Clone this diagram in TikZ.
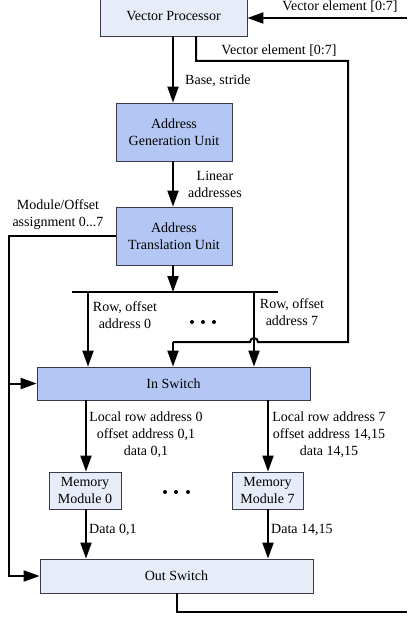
\documentclass[tikz,border=0pt]{standalone}
\usepackage{fontspec}
\setmainfont{Liberation Serif}
\usetikzlibrary{arrows.meta,calc}

\definecolor{palebox}{HTML}{E6ECF8}
\definecolor{bluebox}{HTML}{B3C6F4}
\definecolor{edge}{HTML}{3A3A4A}

\tikzset{
  unit/.style={draw=edge, line width=0.8pt, inner sep=0pt, align=center,
    font=\fontsize{14}{17}\selectfont},
  paleunit/.style={unit, fill=palebox},
  blueunit/.style={unit, fill=bluebox},
  wire/.style={line width=2pt},
  arr/.style={wire, -{Triangle[length=16pt,width=11pt]}},
  lbl/.style={font=\fontsize{14}{17}\selectfont, inner sep=0pt, align=center},
  dotmark/.style={fill=black, draw=none, circle, minimum size=4pt, inner sep=0pt}
}

\begin{document}
\begin{tikzpicture}[x=1pt,y=-1pt]
\useasboundingbox (0,0) rectangle (407,617);
\fill[white] (0,0) rectangle (407,617);

% functional units
\node[paleunit, minimum width=147pt, minimum height=40pt] (vp) at (173.5,16) {Vector Processor};
\node[blueunit, minimum width=116pt, minimum height=58pt] (agu) at (174,132) {Address\\Generation Unit};
\node[blueunit, minimum width=116pt, minimum height=58pt] (atu) at (174,236) {Address\\Translation Unit};
\node[blueunit, minimum width=273pt, minimum height=33pt] (ins) at (173.5,383.5) {In Switch};
\node[paleunit, minimum width=72pt, minimum height=37pt] (mm0) at (85,490.5) {Memory\\Module 0};
\node[paleunit, minimum width=71pt, minimum height=37pt] (mm7) at (267.5,490.5) {Memory\\Module 7};
\node[paleunit, minimum width=273pt, minimum height=34pt] (outs) at (176.5,576) {Out Switch};

% helper points
\coordinate (vin) at (407,18);
\coordinate (fb1) at (196,61);
\coordinate (fb2) at (348,61);
\coordinate (fb3) at (348,342);
\coordinate (hopR) at (258,342);
\coordinate (fb4) at (173,342);
\coordinate (busL) at (72,292);
\coordinate (busR) at (278,292);
\coordinate (br0) at (88,292);
\coordinate (br7) at (254,292);
\coordinate (lft) at (9,237);
\coordinate (outE) at (407,612);

% incoming vector elements
\draw[arr] (vin) -- (vin -| vp.east);

% vector elements routed to the In Switch
\draw[wire] (vp.south -| fb1) -- (fb1) -- (fb2) -- (fb3) -- (hopR)
  arc[start angle=0, end angle=180, radius=4pt] -- (fb4);
\draw[arr] (fb4) -- (fb4 |- ins.north);

% address path
\draw[arr] (vp.south -| 173,0) -- (173,0 |- agu.north);
\draw[arr] (173,0 |- agu.south) -- (173,0 |- atu.north);
\draw[arr] (173,0 |- atu.south) -- (173,0 |- busL);
\draw[wire] (busL) -- (busR);
\draw[arr] (br0) -- (br0 |- ins.north);
\draw[arr] (br7) -- (br7 |- ins.north);

% module/offset assignment
\draw[arr] (atu.west) -| (lft |- outs.west) -- (outs.west);
\draw[arr] (lft |- ins.west) -- (ins.west);

% memory modules
\draw[arr] (86,0 |- ins.south) -- (86,0 |- mm0.north);
\draw[arr] (268,0 |- ins.south) -- (268,0 |- mm7.north);
\draw[arr] (86,0 |- mm0.south) -- (86,0 |- outs.north);
\draw[arr] (268,0 |- mm7.south) -- (268,0 |- outs.north);

% result output
\draw[wire] (outs.south) |- (outE);

% labels
\node[lbl] (l1) at (340,7) {Vector element [0:7]};
\node[lbl] (l2) at (279,51) {Vector element [0:7]};
\node[lbl, anchor=west] (l3) at (185,81) {Base, stride};
\node[lbl] (l4) at (215,184) {Linear\\addresses};
\node[lbl] (l5) at (58,215) {Module/Offset\\assignment 0...7};
\node[lbl] (l6) at (125,315) {Row, offset\\address 0};
\node[lbl] (l7) at (292,312) {Row, offset\\address 7};
\node[lbl] (l8) at (146,435) {Local row address 0\\offset address 0,1\\data 0,1};
\node[lbl] (l9) at (329,435) {Local row address 7\\offset address 14,15\\data 14,15};
\node[lbl, anchor=west] (l10) at (89,530) {Data 0,1};
\node[lbl, anchor=west] (l11) at (271,530) {Data 14,15};

% ellipses
\foreach \i/\x in {a/192,b/203,c/214} \node[dotmark] (du\i) at (\x,322) {};
\foreach \i/\x in {a/165,b/176,c/188} \node[dotmark] (dl\i) at (\x,492) {};
\end{tikzpicture}
\end{document}
